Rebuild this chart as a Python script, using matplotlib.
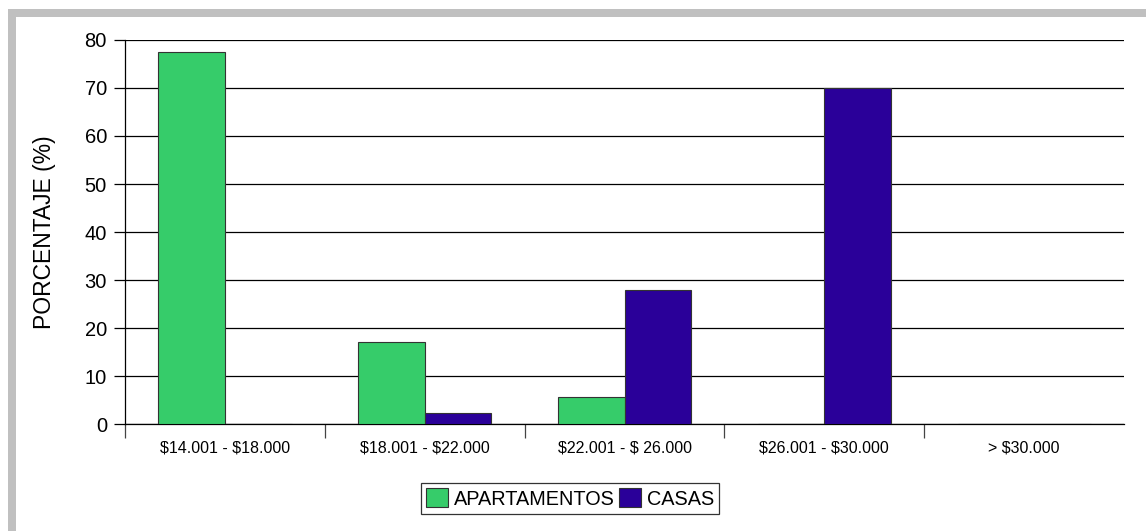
# Distribucion de precios: apartamentos vs casas
import numpy as np
import matplotlib.pyplot as plt
from matplotlib.patches import Rectangle

plt.rcParams['font.family'] = ['Liberation Sans', 'DejaVu Sans']
plt.rcParams['text.parse_math'] = False   # los $ son texto

# %% datos
categorias = ['$14.001 - $18.000', '$18.001 - $22.000', '$22.001 - $ 26.000',
              '$26.001 - $30.000', '> $30.000']
apartamentos = [77.5, 17.0, 5.7, 0.0, 0.0]
casas = [0.0, 2.2, 28.0, 70.0, 0.0]

verde = '#36CC6A'
azul = '#2A0099'

# %% figura
W, H = 1146, 531
fig = plt.figure(figsize=(W / 100, H / 100), dpi=100)
# marco gris (arriba e izquierda)
fig.patches.append(Rectangle((8 / W, 0), 8 / W, 1 - 9 / H, transform=fig.transFigure,
                             facecolor='#C0C0C0', edgecolor='none'))
fig.patches.append(Rectangle((8 / W, 1 - 16.5 / H), 1 - 8 / W, 7.5 / H,
                             transform=fig.transFigure, facecolor='#C0C0C0', edgecolor='none'))

ax = fig.add_axes([125 / W, 1 - 424 / H, 999 / W, 384 / H])
x = np.arange(len(categorias))
w = 1 / 3
ax.bar(x - w / 2, apartamentos, w, color=verde, edgecolor='#333333', linewidth=0.8,
       label='APARTAMENTOS', zorder=3)
ax.bar(x + w / 2, casas, w, color=azul, edgecolor='#333333', linewidth=0.8,
       label='CASAS', zorder=3)

ax.set_xlim(-0.5, len(categorias) - 0.5)
ax.set_ylim(0, 80)
ax.set_yticks(range(0, 81, 10))
ax.yaxis.grid(True, color='black', linewidth=0.9, zorder=0)
ax.tick_params(axis='y', labelsize=14.5, length=8, width=0.9, pad=5)

# ticks en limites de categoria, etiquetas centradas
ax.set_xticks(np.arange(-0.5, len(categorias) - 1, 1.0))
ax.set_xticklabels([])
ax.tick_params(axis='x', which='major', length=10, width=0.9, color='#444444')
ax.set_xticks(x, minor=True)
ax.set_xticklabels(categorias, minor=True, fontsize=11.5)
ax.tick_params(axis='x', which='minor', length=0, pad=12)

for s in ['top', 'right']:
    ax.spines[s].set_visible(False)
ax.spines['left'].set_linewidth(0.9)
ax.spines['bottom'].set_linewidth(0.9)

ax.set_ylabel('PORCENTAJE (%)', fontsize=16.5)
ax.yaxis.set_label_coords(-69 / 999, 0.5)

leg = fig.legend(loc='center', bbox_to_anchor=(570 / W, 1 - 498.5 / H), ncol=2,
                 fontsize=14.3, frameon=True, fancybox=False, edgecolor='black',
                 handlelength=1.1, handleheight=1.1, handletextpad=0.3,
                 columnspacing=0.2, borderpad=0.25, borderaxespad=0)
leg.get_frame().set_linewidth(0.9)

fig.savefig('out.png', dpi=100, facecolor='white')
